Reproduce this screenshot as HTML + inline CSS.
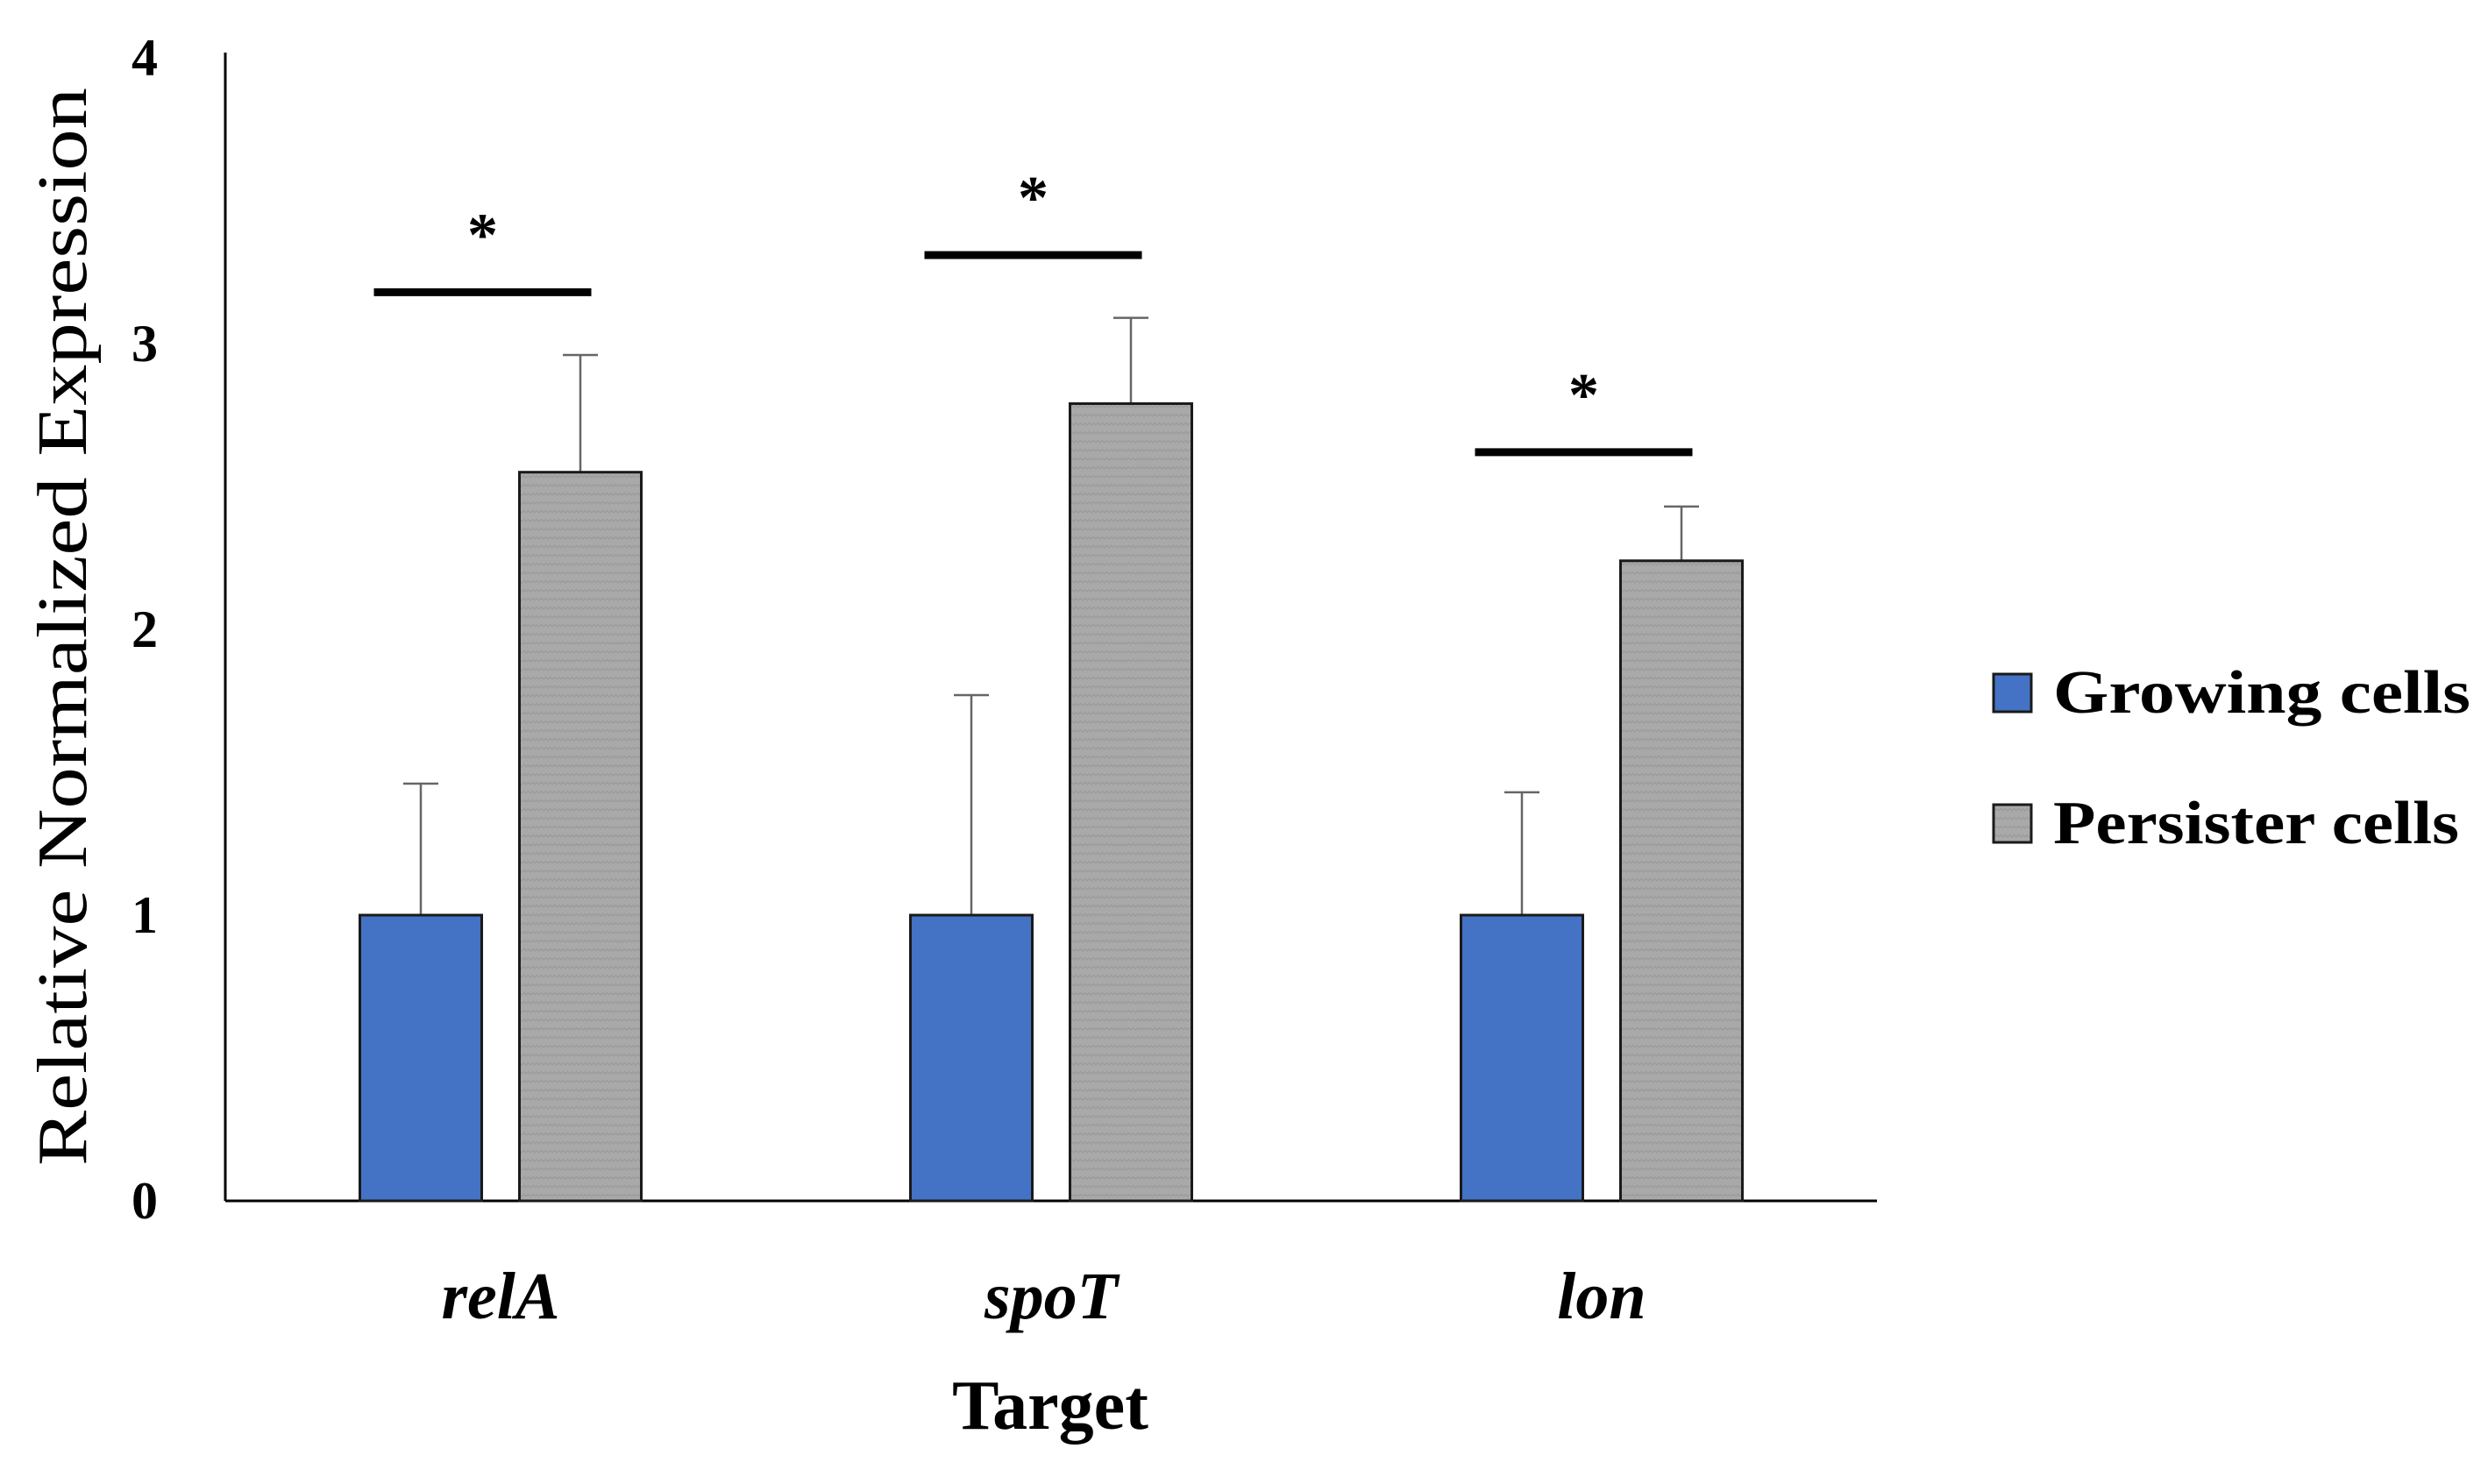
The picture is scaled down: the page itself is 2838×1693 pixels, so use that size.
<!DOCTYPE html>
<html><head><meta charset="utf-8"><style>
html,body{margin:0;padding:0;background:#fff;}
svg{display:block;font-family:"Liberation Serif",serif;}
</style></head><body>
<svg id="chart" width="2838" height="1693" viewBox="0 0 2838 1693">
<defs>
<pattern id="zig" width="10" height="10" patternUnits="userSpaceOnUse">
<rect width="10" height="10" fill="#a9a9a9"/>
<path d="M0 5 L2.5 2.5 L5 5 L7.5 2.5 L10 5" stroke="#999" stroke-width="1.2" fill="none"/>
</pattern>
</defs>
<g id="plot"></g>
</svg>
<script>
const categories = ["relA", "spoT", "lon"];
const growing = [1, 1, 1];
const growingErr = [0.46, 0.77, 0.43];
const persister = [2.55, 2.79, 2.24];
const persisterErr = [0.41, 0.30, 0.19];
const sigLevel = [3.18, 3.31, 2.62];
const yTicks = [0, 1, 2, 3, 4];

const NS = "http://www.w3.org/2000/svg";
const g = document.getElementById("plot");
const X0 = 257, X1 = 2141, Y0 = 1370, UNIT = 326;
const catW = (X1 - X0) / categories.length;
const barW = 139, gap = 43;
const y = v => Y0 - v * UNIT;
const cx = i => X0 + catW * (i + 0.5);
function mk(tag, attrs, text) {
  const e = document.createElementNS(NS, tag);
  for (const k in attrs) e.setAttribute(k, attrs[k]);
  if (text !== undefined) e.textContent = text;
  g.appendChild(e);
  return e;
}
let e;
e = mk("line", {x1: X0, y1: 60, x2: X0, y2: Y0, stroke: "#000", "stroke-width": 3});


e = mk("line", {x1: X0, y1: Y0, x2: X1, y2: Y0, stroke: "#000", "stroke-width": 3});


yTicks.forEach(t => {
  e = mk("text", {x: 165, y: y(t) + 20, "font-size": 60, "font-weight": "bold", "text-anchor": "middle"}, String(t));
  
  
});
categories.forEach((c, i) => {
  const c0 = cx(i);
  const bx = c0 - gap / 2 - barW, px = c0 + gap / 2;
  function errBar(xc, v, err, name) {
    e = mk("line", {x1: xc, y1: y(v), x2: xc, y2: y(v + err), stroke: "#666", "stroke-width": 2.5});
    
    
    e = mk("line", {x1: xc - 20, y1: y(v + err), x2: xc + 20, y2: y(v + err), stroke: "#666", "stroke-width": 2.5});
    
    
  }
  errBar(bx + barW / 2, growing[i], growingErr[i], 'growing-error-bar');
  errBar(px + barW / 2, persister[i], persisterErr[i], 'persister-error-bar');
  e = mk("rect", {x: bx, y: y(growing[i]), width: barW, height: growing[i] * UNIT, fill: "#4472c4", stroke: "#1a1a1a", "stroke-width": 3});
  
  
  e = mk("rect", {x: px, y: y(persister[i]), width: barW, height: persister[i] * UNIT, fill: "url(#zig)", stroke: "#1a1a1a", "stroke-width": 3});
  
  
  e = mk("line", {x1: bx + 16, y1: y(sigLevel[i]), x2: px + barW - 57, y2: y(sigLevel[i]), stroke: "#000", "stroke-width": 9});
  
  
  e = mk("text", {x: (bx + 16 + px + barW - 57) / 2, y: y(sigLevel[i]) - 42, "font-size": 70, "font-weight": "bold", "text-anchor": "middle"}, "*");
  
  
  e = mk("text", {x: c0, y: 1504, "font-size": 76, "font-weight": "bold", "font-style": "italic", "text-anchor": "middle"}, c);
  
  
});
e = mk("text", {x: 1198, y: 1630, "font-size": 80, "font-weight": "bold", "text-anchor": "middle"}, "Target");


e = mk("text", {x: 0, y: 0, "font-size": 80, "text-anchor": "middle", textLength: 1230, lengthAdjust: "spacingAndGlyphs", transform: "translate(98,715) rotate(-90)"}, "Relative Normalized Expression");


e = mk("rect", {x: 2274, y: 769, width: 43, height: 43, fill: "#4472c4", stroke: "#1a1a1a", "stroke-width": 3});


e = mk("text", {x: 2342, y: 813, "font-size": 70, "font-weight": "bold", textLength: 476, lengthAdjust: "spacingAndGlyphs"}, "Growing cells");


e = mk("rect", {x: 2274, y: 918, width: 43, height: 43, fill: "url(#zig)", stroke: "#1a1a1a", "stroke-width": 3});


e = mk("text", {x: 2342, y: 962, "font-size": 70, "font-weight": "bold", textLength: 463, lengthAdjust: "spacingAndGlyphs"}, "Persister cells");


</script>
</body></html>
